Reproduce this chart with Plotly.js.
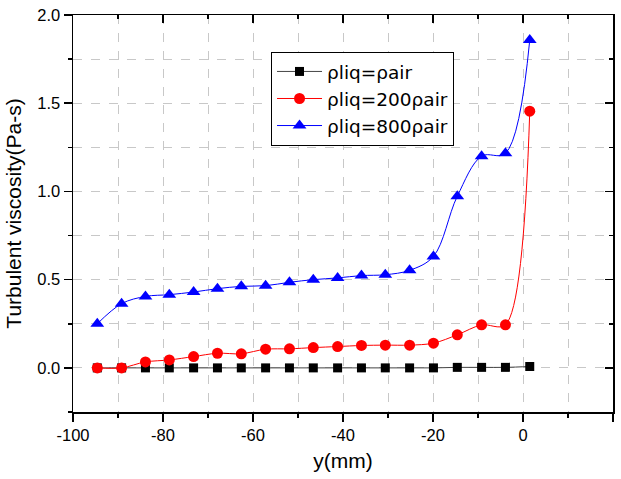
<!DOCTYPE html>
<html>
<head>
<meta charset="utf-8">
<script src="https://cdn.plot.ly/plotly-3.0.1.min.js"></script>
<style>html,body{margin:0;padding:0;background:#fff;}</style>
</head>
<body>
<div id="chart" style="width:621px;height:479px;"></div>
<script>
// Data
const yPos = [-94.6, -89.2, -83.9, -78.6, -73.2, -67.9, -62.6, -57.2, -51.9, -46.6, -41.2, -35.9, -30.6, -25.2, -19.9, -14.6, -9.2, -3.9, 1.5];
const viscEqual = [0, 0, 0, 0, 0, 0, 0, 0, 0, 0, 0, 0, 0, 0, 0, 0.003, 0.003, 0.003, 0.008];
const visc200 = [0, 0, 0.034, 0.045, 0.064, 0.083, 0.08, 0.106, 0.108, 0.115, 0.121, 0.127, 0.129, 0.129, 0.14, 0.1875, 0.244, 0.244, 1.455];
const visc800 = [0.25, 0.364, 0.405, 0.415, 0.43, 0.449, 0.462, 0.466, 0.485, 0.50, 0.51, 0.523, 0.528, 0.553, 0.632, 0.973, 1.20, 1.216, 1.858];
const seriesNames = ['\u03c1liq=\u03c1air', '\u03c1liq=200\u03c1air', '\u03c1liq=800\u03c1air'];
const xTickVals = [-100, -80, -60, -40, -20, 0, 20];
const xTickText = ['-100', '-80', '-60', '-40', '-20', '0', '20'];
const yTickVals = [0, 0.5, 1.0, 1.5, 2.0];
const yTickText = ['0.0', '0.5', '1.0', '1.5', '2.0'];

const tickFont = {family: '"Liberation Sans", Arial, sans-serif', size: 16.5, color: '#000'};
const titleFont = {family: '"Liberation Sans", Arial, sans-serif', size: 21, color: '#000'};

const traces = [
  {x: yPos, y: viscEqual, name: seriesNames[0], type: 'scatter', mode: 'lines+markers',
   line: {color: '#444444', width: 1, shape: 'spline'},
   marker: {symbol: 'square', size: 9, color: '#000000'}, legendgroup: 'a'},
  {x: yPos, y: visc200, name: seriesNames[1], type: 'scatter', mode: 'lines+markers',
   line: {color: '#ff0000', width: 1, shape: 'spline', smoothing: 0.9},
   marker: {symbol: 'circle', size: 11, color: '#ff0000'}, legendgroup: 'b'},
  {x: yPos, y: visc800, name: seriesNames[2], type: 'scatter', mode: 'lines+markers',
   line: {color: '#0000ff', width: 1, shape: 'spline', smoothing: 1},
   marker: {symbol: 'triangle-up', size: 12, color: '#0000ff'}, legendgroup: 'c'},
  {x: [null], y: [null], xaxis: 'x2', yaxis: 'y2', showlegend: false, hoverinfo: 'skip', type: 'scatter', mode: 'markers'}
];

const layout = {
  width: 621, height: 479, autosize: false,
  margin: {l: 73, r: 8, t: 15, b: 67},
  paper_bgcolor: '#fff', plot_bgcolor: '#fff',
  showlegend: true,
  xaxis: {
    range: [-100, 20], tickvals: xTickVals, ticktext: xTickText, ticks: 'outside', ticklen: 8, tickwidth: 1.5, tickcolor: '#000',
    showline: true, linecolor: '#000', linewidth: 1.5, showgrid: false, zeroline: false,
    tickfont: tickFont,
    minor: {dtick: 10, tick0: -100, ticks: 'outside', ticklen: 4, tickwidth: 1.5, tickcolor: '#000',
            showgrid: true, gridcolor: '#c8c8c8', griddash: 'dash', gridwidth: 1},
    title: {text: 'y(mm)', font: titleFont, standoff: 10}
  },
  yaxis: {
    range: [-0.25, 2.0], tickvals: yTickVals, ticktext: yTickText, ticks: 'outside', ticklen: 8, tickwidth: 1.5, tickcolor: '#000',
    showline: true, linecolor: '#000', linewidth: 1.5, showgrid: false, zeroline: false,
    tickfont: tickFont,
    minor: {dtick: 0.25, tick0: 0, ticks: 'outside', ticklen: 4, tickwidth: 1.5, tickcolor: '#000',
            showgrid: true, gridcolor: '#c8c8c8', griddash: 'dash', gridwidth: 1},
    title: {text: 'Turbulent viscosity(Pa-s)', font: titleFont, standoff: 10}
  },
  xaxis2: {
    overlaying: 'x', side: 'top', anchor: 'y2', range: [-100, 20], tickvals: xTickVals,
    ticks: 'inside', ticklen: 8, tickwidth: 1.5, tickcolor: '#000', showticklabels: false,
    showline: true, linecolor: '#000', linewidth: 1.5, showgrid: false, zeroline: false,
    minor: {dtick: 10, tick0: -100, ticks: 'inside', ticklen: 4, tickwidth: 1.5, tickcolor: '#000', showgrid: false}
  },
  yaxis2: {
    overlaying: 'y', side: 'right', anchor: 'x2', range: [-0.25, 2.0], tickvals: yTickVals,
    ticks: 'inside', ticklen: 8, tickwidth: 1.5, tickcolor: '#000', showticklabels: false,
    showline: true, linecolor: '#000', linewidth: 1.5, showgrid: false, zeroline: false,
    minor: {dtick: 0.25, tick0: 0, ticks: 'inside', ticklen: 4, tickwidth: 1.5, tickcolor: '#000', showgrid: false}
  },
  legend: {
    x: 0.3667, y: 0.907, xanchor: 'left', yanchor: 'top',
    bgcolor: '#fff', bordercolor: '#000', borderwidth: 1,
    font: {family: '"DejaVu Sans", sans-serif', size: 18.5, color: '#000'},
    itemwidth: 45,
    tracegroupgap: 5, traceorder: 'normal'
  }
};

Plotly.newPlot('chart', traces, layout, {displayModeBar: false, staticPlot: true});
</script>
</body>
</html>
